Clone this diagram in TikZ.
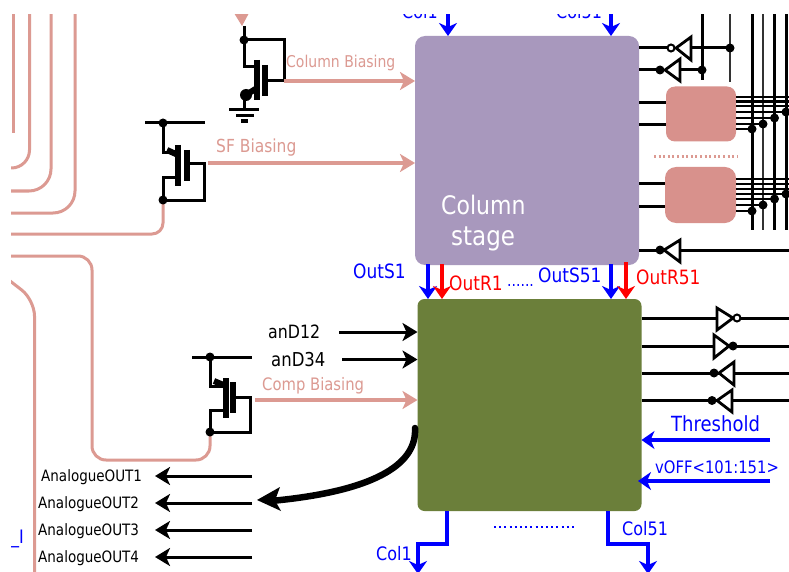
\documentclass[tikz,border=0pt]{standalone}
\usepackage{fontspec}
\setmainfont{DejaVu Sans}
\usetikzlibrary{arrows.meta}
\definecolor{pinkw}{HTML}{DC9A92}
\definecolor{purp}{HTML}{A898BD}
\definecolor{olive}{HTML}{6B7F3A}
\definecolor{pinkb}{HTML}{D8918C}
\definecolor{blu}{HTML}{0000FF}
\newcommand{\fsz}[2]{\scalebox{1}[1.16]{\fontsize{#1}{#1}\selectfont #2}}
\tikzset{
  lbl/.style={inner sep=0pt,anchor=base west},
  blk/.style={draw=none,inner sep=0pt,outer sep=0pt,rectangle},
  wire/.style={draw=black,line width=3pt},
  thin wire/.style={draw=black!80,line width=2pt},
  thick wire/.style={draw=black,line width=6pt},
  pwire/.style={draw=pinkw,line width=3pt},
  parrow/.style={draw=pinkw,line width=3.4pt,-{Stealth[length=15pt,width=18pt,inset=4pt]}},
  karrow/.style={draw=black,line width=3pt,-{Stealth[length=15pt,width=18pt,inset=4pt]}},
  barrow/.style={draw=blu,line width=4pt,-{Stealth[length=13pt,width=18pt,inset=4pt]}},
  rarrow/.style={draw=red,line width=3.6pt,-{Stealth[length=13pt,width=18pt,inset=4pt]}},
  tri/.style={draw=black,line width=2.8pt,fill=white,line join=miter},
  dotf/.style={circle,fill=black,inner sep=0pt,minimum size=9pt},
}
\begin{document}
\begin{tikzpicture}[x=1pt,y=-1pt]
\useasboundingbox (0,0) rectangle (789,572);
\fill[white] (0,0) rectangle (789,572);
\begin{scope}
\clip (11,15) rectangle (789,572);

% left pink runs
\draw[pwire,rounded corners=22pt] (75,10) -- (75,213) -- (5,213);
\draw[pwire,rounded corners=22pt] (51,10) -- (51,191) -- (5,191);
\draw[pwire,rounded corners=18pt] (29.5,10) -- (29.5,168) -- (5,168);
\draw[pwire] (13,10) -- (13,133);
\draw[pwire,rounded corners=16pt] (5,277) -- (34.5,300) -- (34.5,580);

% boxes
\node[blk,fill=purp,rounded corners=10pt,minimum width=224pt,minimum height=229pt] (col) at (527,150.5) {};
\node[blk,fill=olive,rounded corners=7pt,minimum width=224pt,minimum height=212pt] (cmp) at (529.5,405) {};
\node[blk,fill=pinkb,rounded corners=9pt,minimum width=70pt,minimum height=55pt] (p1) at (701,114) {};
\node[blk,fill=pinkb,rounded corners=11pt,minimum width=71pt,minimum height=56pt] (p2) at (700.5,195) {};

\node[lbl,text=white] (tcol) at (441,214) {\fsz{22}{Column}};
\node[lbl,text=white] (tsta) at (451,245) {\fsz{23}{stage}};

% top arrows
\coordinate (c1t) at (448,10);
\coordinate (c51t) at (611,10);
\draw[barrow] (c1t) -- (c1t |- col.north);
\draw[barrow] (c51t) -- (c51t |- col.north);
\node[lbl,text=blu] (lc1) at (402,19) {\fsz{16}{Col1}};
\node[lbl,text=blu] (lc51) at (556,19) {\fsz{16}{Col51}};

% column stage to comparator
\coordinate (s1) at (428,264);
\coordinate (r1) at (442,264);
\coordinate (s51) at (611,264);
\coordinate (r51) at (626,262);
\draw[barrow] (s1) -- (s1 |- cmp.north);
\draw[rarrow] (r1) -- (r1 |- cmp.north);
\draw[barrow] (s51) -- (s51 |- cmp.north);
\draw[rarrow] (r51) -- (r51 |- cmp.north);
\node[lbl,text=blu] (ls1) at (353,278) {\fsz{17}{OutS1}};
\node[lbl,text=red] (lr1) at (449,290) {\fsz{17}{OutR1}};
\node[lbl,text=blu] (ldots) at (507,286) {\fsz{14}{......}};
\node[lbl,text=blu] (ls51) at (538,282) {\fsz{17}{OutS51}};
\node[lbl,text=red] (lr51) at (636,284) {\fsz{17}{OutR51}};

% column biasing transistor
\coordinate (vb) at (244,40);
\coordinate (vb2) at (284,81);
\fill[pinkw] (234,13) -- (249,13) -- (242,26) -- cycle;
\draw[wire] (244,26) -- (vb) -- (284,40) -- (vb2);
\draw[wire] (vb) -- (244,67) -- (257,67);
\draw[thick wire] (257,60) -- (257,100);
\draw[line width=6pt] (265,65) -- (265,96);
\draw[wire] (265,81) -- (vb2);
\draw[line width=6pt] (257,88) -- (246,95);
\draw[wire] (244,92) -- (244,110);
\node[dotf] (d1) at (vb) {};
\node[dotf,minimum size=12pt] (d2) at (246,95) {};
\draw[line width=3pt] (229,110) -- (259,110);
\draw[line width=3pt] (236,115.5) -- (254,115.5);
\draw[line width=3.4pt] (241,121) -- (248,121);
\draw[parrow] (vb2) -- (vb2 -| col.west);
\node[lbl,text=pinkw] (lcb) at (286,68) {\fsz{14}{Column Biasing}};

% SF biasing transistor
\coordinate (sfd) at (163,123);
\coordinate (sfs) at (163,200);
\coordinate (sfo) at (208,163);
\draw[wire] (145,123) -- (205,123);
\node[dotf] (d3) at (sfd) {};
\draw[wire] (sfd) -- (163,153) -- (178,153);
\draw[thick wire] (178,145) -- (178,186);
\draw[line width=6pt] (187,150) -- (187,181);
\draw[wire] (187,164) -- (204,164) -- (204,200) -- (sfs) -- (163,178) -- (178,178);
\draw[line width=6pt] (167,150) -- (178,155);
\draw[pwire,rounded corners=11pt] (sfs) -- (163,234) -- (5,234);
\node[dotf] (d4) at (sfs) {};
\draw[parrow] (sfo) -- (sfo -| col.west);
\node[lbl,text=pinkw] (lsf) at (216,153) {\fsz{15.5}{SF Biasing}};

% comp biasing transistor
\coordinate (cpd) at (210,357);
\coordinate (cps) at (210,432);
\coordinate (cpo) at (255,400);
\draw[wire] (192,357) -- (252,357);
\node[dotf] (d5) at (cpd) {};
\draw[wire] (cpd) -- (210,386) -- (225,386);
\draw[thick wire] (226,378) -- (226,418);
\draw[line width=6pt] (233,382) -- (233,413);
\draw[wire] (233,397) -- (250,397) -- (250,432) -- (cps) -- (210,410) -- (226,410);
\draw[line width=6pt] (214,381) -- (226,386);
\draw[pwire,rounded corners=14pt] (cps) -- (210,460) -- (92,460) -- (92,256) -- (5,256);
\node[dotf] (d6) at (cps) {};
\draw[parrow] (cpo) -- (cpo -| cmp.west);
\node[lbl,text=pinkw] (lcp) at (262,390) {\fsz{14.8}{Comp Biasing}};

% digital inputs
\coordinate (an12) at (339,332);
\coordinate (an34) at (342,359.5);
\draw[karrow] (an12) -- (an12 -| cmp.west);
\draw[karrow] (an34) -- (an34 -| cmp.west);
\node[lbl] (lan12) at (268,338) {\fsz{15.8}{anD12}};
\node[lbl] (lan34) at (271,366) {\fsz{16.5}{anD34}};

% analogue outs
\foreach \yy/\xx/\n in {476/41/1,503/38/2,530/38/3,557/38/4}{
  \coordinate (ao\n) at (252,\yy);
  \coordinate (at\n) at (155,\yy);
  \draw[karrow] (ao\n) -- (at\n);
  \node[lbl] (lo\n) at (\xx,\yy+5) {\fsz{13.5}{AnalogueOUT\n}};
}
\coordinate (cs) at (415,428);
\coordinate (ce) at (257,500);
\draw[line width=6.5pt,line cap=round] (cs) .. controls (417,462) and (380,490) .. (276,500.5);
\fill (ce) -- (280,487) -- (275,500.5) -- (281,511) -- cycle;
\node[lbl,text=blu] (li) at (11,543) {\fsz{16}{\_I}};

% inverters to upper right
\coordinate (i1) at (671,48);
\coordinate (i2) at (660,70);
\coordinate (j1) at (730,48);
\coordinate (j2) at (702,70);
\draw[wire] (i1 -| col.east) -- (i1) (691,48) -- (j1);
\draw[wire] (i2 -| col.east) -- (i2) (680,70) -- (j2);
\draw[wire] (702,10) -- (702,80);
\draw[thin wire] (730,10) -- (730,82);
\draw[tri] (676,48) -- (691,37) -- (691,60) -- cycle;
\draw[tri] (665,70) -- (680,59) -- (680,81) -- cycle;
\node[circle,draw=black,line width=2pt,fill=white,inner sep=0pt,minimum size=7pt] (b1) at (i1) {};
\node[dotf] (d7) at (i2) {};
\node[dotf] (d8) at (j1) {};
\node[dotf] (d9) at (j2) {};

% pink box links
\foreach \yy in {103,125}{\coordinate (a) at (col.east |- 0,\yy); \draw[wire] (a) -- (a -| p1.west);}
\foreach \yy in {184,206}{\coordinate (a) at (col.east |- 0,\yy); \draw[wire] (a) -- (a -| p2.west);}

% bus
\draw[wire] (752,10) -- (752,230);
\draw[thin wire] (763,10) -- (763,230);
\draw[wire] (774.5,10) -- (774.5,230);
\draw[wire] (786,10) -- (786,230);
\foreach \yy in {97,101.5,106}{\draw[line width=2.3pt] (p1.east |- 0,\yy) -- (795,\yy);}
\foreach \yy/\xx in {112/786,118/774.5,124/763,129/752}{
  \draw[line width=2.3pt] (p1.east |- 0,\yy) -- (\xx,\yy);
  \node[dotf] at (\xx,\yy) {};
}
\foreach \yy in {179,184,189}{\draw[line width=2.3pt] (p2.east |- 0,\yy) -- (795,\yy);}
\foreach \yy/\xx in {194/786,199/774.5,205/763,211/752}{
  \draw[line width=2.3pt] (p2.east |- 0,\yy) -- (\xx,\yy);
  \node[dotf] at (\xx,\yy) {};
}
\draw[pinkw,line width=2.2pt,dash pattern=on 2pt off 2.6pt] (654,156.5) -- (737,156.5);

% lower inverter of column stage
\coordinate (i3) at (660,250);
\draw[wire] (i3 -| col.east) -- (i3) (680,250) -- (795,250);
\draw[tri] (664,250) -- (680,240) -- (680,262) -- cycle;
\node[dotf] (d10) at (i3) {};

% comparator right side
\coordinate (q1) at (737,318);
\coordinate (q2) at (733,346);
\coordinate (q3) at (714,373);
\coordinate (q4) at (712,400.5);
\draw[wire] (q1 -| cmp.east) -- (795,318);
\draw[wire] (q2 -| cmp.east) -- (795,346);
\draw[wire] (q3 -| cmp.east) -- (795,373);
\draw[wire] (q4 -| cmp.east) -- (795,400.5);
\draw[tri] (717,308) -- (717,330) -- (733,318) -- cycle;
\draw[tri] (714,335) -- (714,358) -- (729,346) -- cycle;
\draw[tri] (734,362) -- (734,385) -- (719,373) -- cycle;
\draw[tri] (732,390) -- (732,412) -- (717,400.5) -- cycle;
\node[circle,draw=black,line width=2pt,fill=white,inner sep=0pt,minimum size=7pt] (b2) at (q1) {};
\node[dotf] (d11) at (q2) {};
\node[dotf] (d12) at (q3) {};
\node[dotf] (d13) at (q4) {};

% threshold and offset
\coordinate (th) at (770,440);
\coordinate (vo) at (770,481);
\draw[barrow] (th) -- (th -| cmp.east);
\draw[barrow] (vo) -- (638,481);
\node[lbl,text=blu] (lth) at (671,431) {\fsz{18}{Threshold}};
\node[lbl,text=blu] (lvo) at (655,473) {\fsz{14.8}{vOFF<101:151>}};

% bottom outs
\coordinate (o1) at (447,511);
\coordinate (o51) at (608,511);
\draw[barrow] (o1) -- (447,544) -- (418,544) -- (418,574);
\draw[barrow] (o51) -- (608,544) -- (648,544) -- (648,574);
\node[lbl,text=blu] (lb1) at (376,560) {\fsz{16}{Col1}};
\node[lbl,text=blu] (lb51) at (622,535) {\fsz{16}{Col51}};
\draw[blu,line width=2pt,dash pattern=on 2pt off 3.2pt] (494,527) -- (574,527);

\end{scope}
\end{tikzpicture}
\end{document}
